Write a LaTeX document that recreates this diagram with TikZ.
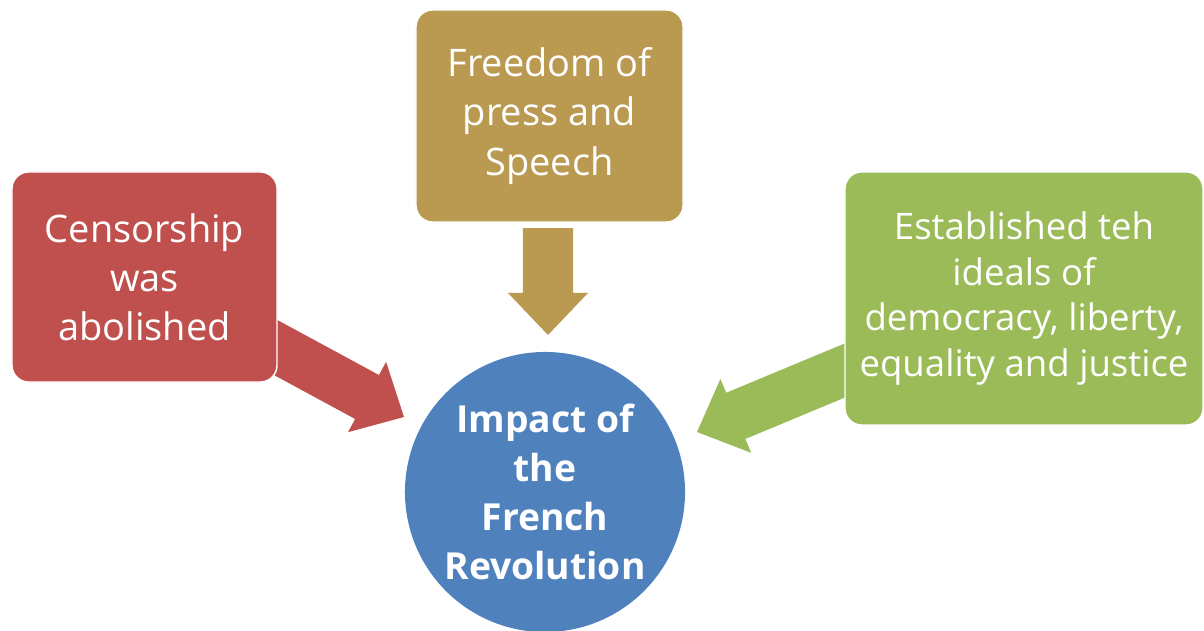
\documentclass[tikz,border=0pt]{standalone}
\usepackage{fontspec}
\setmainfont{Open Sans}
\usetikzlibrary{calc}

\definecolor{censorred}{RGB}{192,80,77}
\definecolor{pressgold}{RGB}{186,154,81}
\definecolor{idealgreen}{RGB}{155,187,89}
\definecolor{impactblue}{RGB}{79,129,189}

\tikzset{
  idea/.style={rectangle, rounded corners=0.42cm, draw=white, line width=1pt,
    text=white, align=center, inner sep=0pt,
    font=\fontsize{27}{35}\selectfont},
  impact/.style={circle, fill=impactblue, text=white, align=center,
    inner sep=0pt, minimum size=7cm, font=\fontsize{26.5}{35}\selectfont\bfseries},
}

% block arrow: colour, start, tip
\newcommand\fatarrow[3]{%
  \coordinate (#2-base) at ($(#3)!1.05cm!(#2)$);
  \fill[#1] ($(#2)!0.625cm!90:(#3)$) -- ($(#2-base)!0.625cm!90:(#3)$)
    -- ($(#2-base)!1cm!90:(#3)$) -- (#3)
    -- ($(#2-base)!1cm!-90:(#3)$) -- ($(#2-base)!0.625cm!-90:(#3)$)
    -- ($(#2)!0.625cm!-90:(#3)$) -- cycle;
}

\begin{document}
\begin{tikzpicture}[x=0.025cm, y=-0.025cm]
  \useasboundingbox (0,0) rectangle (1204,631);
  \clip (0,0) rectangle (1204,631);

  % arrows first, the boxes cover their tails
  \coordinate (redstart) at (247,332);
  \coordinate (redtip) at (404,417);
  \coordinate (goldstart) at (548,228);
  \coordinate (goldtip) at (548,335);
  \coordinate (greenstart) at (882,355);
  \coordinate (greentip) at (697,432);
  \fatarrow{censorred}{redstart}{redtip}
  \fatarrow{pressgold}{goldstart}{goldtip}
  \fatarrow{idealgreen}{greenstart}{greentip}

  % boxes
  \node[idea, fill=censorred, minimum width=6.625cm, minimum height=5.25cm]
    (censor) at (144.5,277) {Censorship\\was\\abolished};
  \node[idea, fill=pressgold, minimum width=6.675cm, minimum height=5.3cm]
    (press) at (549.5,116) {Freedom of\\press and\\Speech};
  \node[idea, fill=idealgreen, minimum width=8.95cm, minimum height=6.325cm,
    font=\fontsize{26}{32.5}\selectfont]
    (ideals) at (1024,298.5) {Established teh\\ideals of\\democracy, liberty,\\equality and justice};

  % centre
  \node[impact] (revolution) at (545,492) {Impact of\\the\\French\\Revolution};
\end{tikzpicture}
\end{document}
